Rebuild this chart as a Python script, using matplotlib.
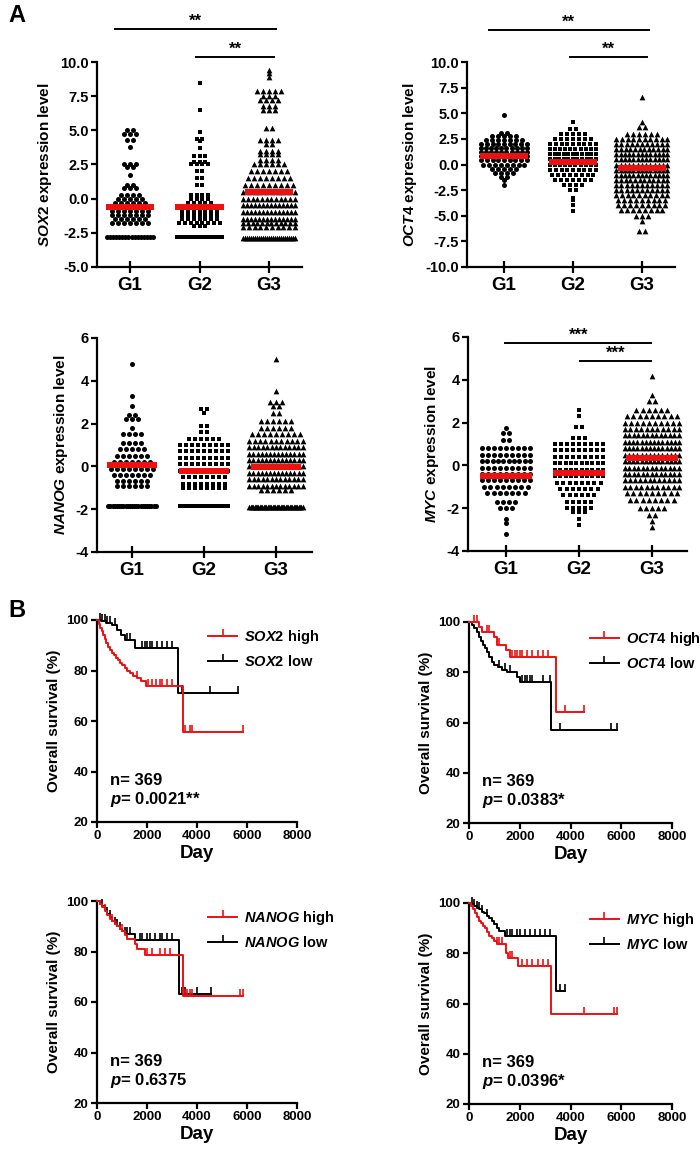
import numpy as np
import matplotlib
matplotlib.use('Agg')
from matplotlib import pyplot as plt
from matplotlib.lines import Line2D

plt.rcParams['font.family'] = 'Liberation Sans'
plt.rcParams['font.weight'] = 'bold'
plt.rcParams['axes.labelweight'] = 'bold'
plt.rcParams['axes.unicode_minus'] = False
plt.rcParams['mathtext.fontset'] = 'custom'
plt.rcParams['mathtext.it'] = 'Liberation Sans:italic:bold'
plt.rcParams['mathtext.rm'] = 'Liberation Sans:bold'
plt.rcParams['mathtext.bf'] = 'Liberation Sans:bold'

groups = ['G1', 'G2', 'G3']

# --- A: expression levels, as rows (level, number of patients in the row) ---
sox2_g1_y = [5.0, 4.7, 4.3, 3.8, 2.5, 2.3, 1.7, 1.0, 0.8, 0.3, 0.0, -0.3, -0.6, -0.9, -1.2, -1.5, -1.8, -2.8]
sox2_g1_n = [2, 3, 2, 1, 3, 2, 1, 2, 3, 4, 5, 6, 8, 7, 7, 6, 7, 16]
sox2_g2_y = [8.5, 6.5, 4.9, 4.4, 4.2, 3.7, 3.1, 2.7, 2.5, 2.0, 1.5, 1.0, 0.3, 0.0, -0.3, -0.6, -0.9, -1.2, -1.5, -1.8, -2.0, -2.8]
sox2_g2_n = [1, 1, 1, 2, 1, 1, 3, 3, 4, 2, 2, 2, 4, 4, 5, 8, 7, 7, 7, 8, 3, 24]
sox2_g3_y = [9.4, 9.2, 8.9, 7.9, 7.5, 7.2, 6.8, 6.5, 5.2, 4.3, 4.0, 3.5, 3.3, 2.8, 2.5, 2.0, 1.5, 1.0, 0.5, 0.0, -0.5, -1.0, -1.5, -1.8, -2.1, -2.9]
sox2_g3_n = [1, 1, 1, 5, 3, 4, 3, 3, 2, 4, 2, 4, 4, 4, 6, 7, 8, 9, 10, 12, 14, 14, 14, 12, 10, 27]
sox2_med = [-0.6, -0.6, 0.5]

oct4_g1_y = [4.8, 3.1, 2.8, 2.4, 2.0, 1.6, 1.2, 0.8, 0.4, 0.0, -0.4, -0.8, -1.2, -1.5, -2.0]
oct4_g1_n = [1, 2, 5, 7, 9, 10, 10, 11, 9, 8, 5, 4, 2, 1, 1]
oct4_g2_y = [4.1, 3.5, 3.0, 2.5, 2.0, 1.5, 1.0, 0.5, 0.0, -0.5, -1.0, -1.5, -2.0, -2.5, -3.3, -3.5, -4.0, -4.5]
oct4_g2_n = [1, 2, 5, 7, 9, 10, 11, 11, 10, 9, 8, 7, 4, 2, 1, 1, 1, 1]
oct4_g3_y = [6.6, 4.1, 3.7, 3.0, 2.5, 2.0, 1.5, 1.0, 0.5, 0.0, -0.5, -1.0, -1.5, -2.0, -2.5, -3.0, -3.5, -4.0, -4.4, -5.0, -5.5, -6.5]
oct4_g3_n = [1, 1, 2, 6, 10, 11, 12, 13, 13, 13, 13, 13, 12, 11, 11, 10, 9, 9, 8, 3, 1, 2]
oct4_med = [0.8, 0.2, -0.3]

nanog_g1_y = [4.8, 3.3, 2.8, 2.4, 2.2, 1.8, 1.5, 1.1, 0.8, 0.5, 0.2, -0.1, -0.4, -0.7, -0.9, -1.85]
nanog_g1_n = [1, 1, 1, 2, 3, 1, 4, 4, 5, 6, 7, 8, 7, 6, 6, 23]
nanog_g2_y = [2.7, 2.5, 1.9, 1.6, 1.3, 1.0, 0.7, 0.4, 0.1, -0.2, -0.5, -0.8, -1.0, -1.85]
nanog_g2_n = [2, 1, 2, 2, 6, 9, 9, 9, 9, 9, 8, 8, 8, 18]
nanog_g3_y = [5.0, 3.5, 3.0, 2.8, 2.5, 2.1, 1.8, 1.5, 1.2, 0.9, 0.6, 0.3, 0.0, -0.3, -0.6, -0.9, -1.1, -1.9]
nanog_g3_n = [1, 1, 3, 2, 2, 6, 6, 9, 11, 13, 14, 14, 14, 14, 13, 13, 6, 42]
nanog_med = [0.05, -0.2, -0.05]

myc_g1_y = [1.75, 1.5, 1.2, 0.8, 0.5, 0.2, -0.1, -0.4, -0.7, -1.0, -1.3, -1.7, -2.0, -2.5, -2.7, -3.2]
myc_g1_n = [1, 2, 2, 9, 9, 10, 9, 9, 9, 8, 7, 4, 3, 1, 1, 1]
myc_g2_y = [2.6, 2.3, 1.8, 1.3, 1.0, 0.7, 0.4, 0.1, -0.2, -0.5, -0.8, -1.1, -1.4, -1.7, -2.0, -2.2, -2.5, -2.8]
myc_g2_n = [1, 1, 2, 3, 9, 9, 9, 10, 10, 10, 8, 7, 6, 5, 5, 3, 1, 1]
myc_g3_y = [4.2, 3.3, 3.0, 2.6, 2.3, 2.0, 1.7, 1.4, 1.1, 0.8, 0.5, 0.2, -0.1, -0.4, -0.7, -1.0, -1.3, -1.6, -2.0, -2.3, -2.6, -2.9]
myc_g3_n = [1, 1, 2, 6, 9, 10, 11, 13, 14, 14, 14, 14, 13, 13, 12, 11, 9, 8, 5, 2, 1, 1]
myc_med = [-0.5, -0.35, 0.35]

# --- B: Kaplan-Meier steps (day, survival %), last point = end of follow-up ---
sox2_hi_t = [0, 60, 120, 180, 240, 300, 360, 420, 500, 580, 660, 740, 820, 900, 1000, 1100, 1200, 1320, 1450, 1600, 1750, 1950, 3420, 5850]
sox2_hi_s = [100, 98.5, 97, 95.5, 94, 92.5, 91, 89.5, 88, 87, 86, 85, 84, 83, 82, 81, 80, 79, 78, 77, 76, 74, 55.5, 55.5]
sox2_hi_c = [1600, 2050, 2200, 2350, 2500, 2600, 2800, 3000, 3500, 3700, 3800, 5850]
sox2_lo_t = [0, 150, 350, 600, 800, 950, 1100, 1500, 3250, 5650]
sox2_lo_s = [100, 99.5, 99, 98, 96, 94, 92, 89, 71, 71]
sox2_lo_c = [100, 200, 300, 400, 500, 700, 1200, 1300, 1800, 1900, 2000, 2100, 2200, 2400, 2600, 2800, 3000, 3400, 4500, 5650]

oct4_hi_t = [0, 300, 400, 500, 1000, 1100, 1450, 1600, 3430, 4550]
oct4_hi_s = [100, 100, 98, 96, 94, 91, 89, 86, 64, 64]
oct4_hi_c = [200, 300, 700, 800, 1200, 1700, 1800, 1900, 2000, 2100, 2300, 2500, 2700, 2900, 3100, 3800, 4550]
oct4_lo_t = [0, 100, 200, 300, 400, 480, 560, 640, 720, 800, 900, 1000, 1150, 1300, 1500, 1900, 2000, 3230, 5850]
oct4_lo_s = [100, 99, 97.5, 96, 94, 92.5, 91, 89.5, 88, 86, 84, 83, 82, 81, 80, 78, 76, 57, 57]
oct4_lo_c = [1200, 1400, 1600, 2100, 2200, 2300, 2400, 2500, 2900, 3200, 3600, 5600, 5850]

nanog_hi_t = [0, 100, 200, 300, 400, 500, 600, 700, 800, 900, 1000, 1100, 1200, 1500, 1600, 1900, 3440, 5850]
nanog_hi_s = [100, 99, 97.5, 96, 94.5, 93, 92, 91, 90, 89, 88, 86.5, 85, 83, 81, 78.5, 62.5, 62.5]
nanog_hi_c = [300, 600, 1000, 2000, 2200, 2500, 2700, 2900, 3500, 3600, 3700, 3800, 5700, 5850]
nanog_lo_t = [0, 100, 200, 300, 400, 500, 600, 700, 800, 900, 1000, 1100, 1500, 3260, 4550]
nanog_lo_s = [100, 99, 98, 96.5, 95, 93.5, 92, 91, 90, 89, 88, 87, 84.5, 63, 63]
nanog_lo_c = [200, 400, 500, 700, 800, 900, 1100, 1200, 1300, 1700, 1800, 2000, 2100, 2300, 2500, 2600, 2800, 3000, 3400, 3500, 4000, 4550]

myc_hi_t = [0, 80, 160, 240, 320, 400, 480, 560, 640, 720, 800, 900, 1000, 1100, 1450, 1550, 1950, 3230, 5850]
myc_hi_s = [100, 99, 97.5, 96, 94.5, 93, 92, 91, 90, 88.5, 87, 86, 85, 83.5, 80, 78, 75, 56, 56]
myc_hi_c = [1100, 1200, 1300, 1600, 1700, 2100, 2300, 2500, 2700, 2900, 3100, 4550, 5700, 5850]
myc_lo_t = [0, 100, 200, 300, 400, 500, 600, 700, 800, 900, 1000, 1100, 1200, 1400, 3420, 3800]
myc_lo_s = [100, 99.5, 99, 98, 97.5, 96.5, 96, 95, 94, 93, 91.5, 90, 89, 87, 65, 65]
myc_lo_c = [100, 200, 300, 400, 500, 700, 1500, 1600, 1700, 1900, 2000, 2200, 2400, 2600, 2800, 3000, 3200, 3600, 3800]

n_total = 369
p_values = ['0.0021**', '0.0383*', '0.6375', '0.0396*']

W, H = 700, 1158
fig = plt.figure(figsize=(W / 100, H / 100), dpi=100)
RED = '#ee1111'


def px_axes(l, t, r, b):
    return fig.add_axes([l / W, 1 - b / H, (r - l) / W, (b - t) / H])


def swarm(center, levels, counts, half):
    xs, ys = [], []
    for y, n in zip(levels, counts):
        step = 0.085
        if n > 1 and step * (n - 1) > 2 * half:
            step = 2 * half / (n - 1)
        offs = (np.arange(n) - (n - 1) / 2) * step
        xs += list(center + offs)
        ys += [y] * n
    return xs, ys


def style_axes(ax):
    for side in ['top', 'right']:
        ax.spines[side].set_visible(False)
    for side in ['left', 'bottom']:
        ax.spines[side].set_linewidth(1.6)


def dot_panel(ax, gene, levels, counts, medians, ylim, yticks, fmt, xlim, sig):
    markers = ['o', 's', '^']
    sizes = [13, 12, 17]
    halfs = [0.33, 0.33, 0.37]
    for i in range(3):
        xs, ys = swarm(i + 1, levels[i], counts[i], halfs[i])
        ax.scatter(xs, ys, s=sizes[i], marker=markers[i], color='black',
                   linewidths=0, zorder=2, clip_on=False)
        ax.plot([i + 1 - 0.35, i + 1 + 0.35], [medians[i], medians[i]], color=RED,
                lw=4.3, zorder=3, solid_capstyle='butt')
    style_axes(ax)
    ax.set_xlim(*xlim)
    ax.set_ylim(*ylim)
    ax.set_xticks([1, 2, 3])
    ax.set_xticklabels(groups, fontsize=13.5)
    ax.set_yticks(yticks)
    ax.set_yticklabels([fmt % v for v in yticks], fontsize=10.5)
    ax.tick_params(axis='x', direction='inout', length=8, width=1.6, pad=3)
    ax.tick_params(axis='y', direction='out', length=4, width=1.6, pad=2)
    ax.set_ylabel(r'$\it{%s}$ expression level' % gene, fontsize=11, labelpad=4)
    for x0, x1, y, label in sig:
        ax.plot([x0, x1], [y, y], color='black', lw=1.4, clip_on=False)
        ax.annotate(label, ((x0 + x1) / 2, y), xytext=(0, 0), textcoords='offset points',
                    ha='center', va='bottom', fontsize=12, annotation_clip=False)


def km_panel(ax, gene, hi, lo, pval, leg_x):
    for (t, s, c), color in [(lo, 'black'), (hi, RED)]:
        ax.step(t, s, where='post', color=color, lw=1.4, clip_on=False, zorder=3)
        idx = np.searchsorted(t, c, side='right') - 1
        cy = np.array(s)[np.clip(idx, 0, len(s) - 1)]
        ax.plot(c, cy, linestyle='none', marker=2, markersize=5, mew=1.2, color=color,
                clip_on=False, zorder=3)
    style_axes(ax)
    ax.set_xlim(0, 8000)
    ax.set_ylim(20, 100)
    ax.set_xticks(range(0, 8001, 2000))
    ax.set_yticks(range(20, 101, 20))
    ax.tick_params(direction='out', length=4, width=1.6, labelsize=9.5, pad=2)
    ax.set_xlabel('Day', fontsize=13.5, labelpad=2)
    ax.set_ylabel('Overall survival (%)', fontsize=11, labelpad=4)
    handles = [Line2D([], [], color=RED, lw=1.4, marker=2, markersize=5, mew=1.2),
               Line2D([], [], color='black', lw=1.4, marker=2, markersize=5, mew=1.2)]
    labels = [r'$\it{%s}$ high' % gene, r'$\it{%s}$ low' % gene]
    ax.legend(handles, labels, loc='upper left', bbox_to_anchor=(leg_x, 0.96), frameon=False,
              fontsize=10.5, handlelength=2.0, handletextpad=0.45, labelspacing=0.55,
              borderpad=0, borderaxespad=0, numpoints=1)
    ax.text(0.065, 0.205, 'n= %d' % n_total, transform=ax.transAxes, fontsize=12, va='center')
    ax.text(0.065, 0.11, r'$\it{p}$= ' + pval, transform=ax.transAxes, fontsize=12, va='center')


ax = px_axes(97, 62, 302, 267)
dot_panel(ax, 'SOX2', [sox2_g1_y, sox2_g2_y, sox2_g3_y], [sox2_g1_n, sox2_g2_n, sox2_g3_n], sox2_med,
          (-5, 10), np.arange(-5, 10.01, 2.5), '%.1f', (0.525, 3.475),
          [(0.78, 3.1, 12.4, '**'), (1.95, 3.07, 10.37, '**')])

ax = px_axes(467, 62, 675, 267)
dot_panel(ax, 'OCT4', [oct4_g1_y, oct4_g2_y, oct4_g3_y], [oct4_g1_n, oct4_g2_n, oct4_g3_n], oct4_med,
          (-10, 10), np.arange(-10, 10.01, 2.5), '%.1f', (0.464, 3.48),
          [(0.78, 3.1, 13.1, '**'), (1.96, 3.07, 10.5, '**')])

ax = px_axes(97, 338, 312, 552)
dot_panel(ax, 'NANOG', [nanog_g1_y, nanog_g2_y, nanog_g3_y], [nanog_g1_n, nanog_g2_n, nanog_g3_n], nanog_med,
          (-4, 6), np.arange(-4, 6.01, 2), '%d', (0.514, 3.5), [])

ax = px_axes(468, 337, 687, 551)
dot_panel(ax, 'MYC', [myc_g1_y, myc_g2_y, myc_g3_y], [myc_g1_n, myc_g2_n, myc_g3_n], myc_med,
          (-4, 6), np.arange(-4, 6.01, 2), '%d', (0.48, 3.48),
          [(0.99, 2.99, 5.72, '***'), (2.01, 2.99, 4.88, '***')])

ax = px_axes(97, 620, 297, 822)
km_panel(ax, 'SOX2', (sox2_hi_t, sox2_hi_s, sox2_hi_c), (sox2_lo_t, sox2_lo_s, sox2_lo_c), p_values[0], 0.555)
ax = px_axes(469, 622, 672, 823)
km_panel(ax, 'OCT4', (oct4_hi_t, oct4_hi_s, oct4_hi_c), (oct4_lo_t, oct4_lo_s, oct4_lo_c), p_values[1], 0.595)
ax = px_axes(97, 901, 297, 1103)
km_panel(ax, 'NANOG', (nanog_hi_t, nanog_hi_s, nanog_hi_c), (nanog_lo_t, nanog_lo_s, nanog_lo_c), p_values[2], 0.555)
ax = px_axes(469, 903, 672, 1104)
km_panel(ax, 'MYC', (myc_hi_t, myc_hi_s, myc_hi_c), (myc_lo_t, myc_lo_s, myc_lo_c), p_values[3], 0.595)

fig.text(8 / W, 1 - 15 / H, 'A', fontsize=17, va='center', ha='left')
fig.text(8 / W, 1 - 611 / H, 'B', fontsize=17, va='center', ha='left')

fig.savefig('out.png', dpi=100)
